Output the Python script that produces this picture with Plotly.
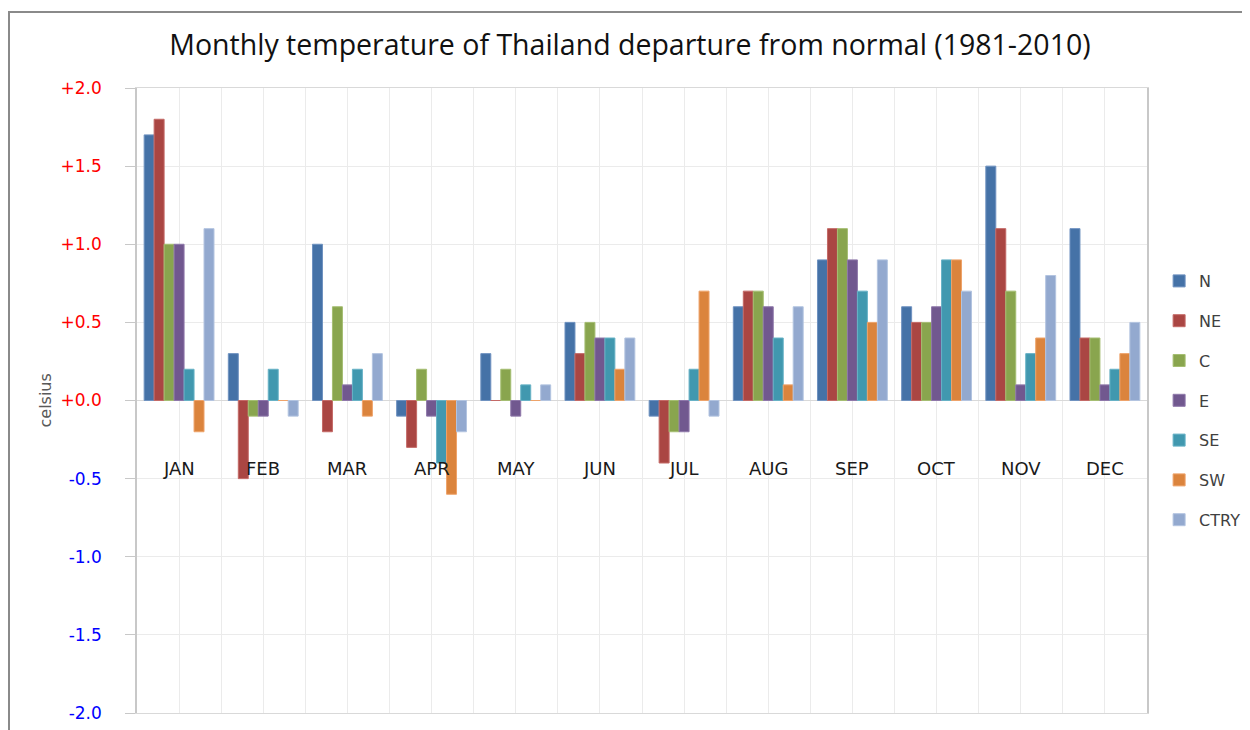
import plotly.graph_objects as go

months = ["JAN", "FEB", "MAR", "APR", "MAY", "JUN", "JUL", "AUG", "SEP", "OCT", "NOV", "DEC"]
N    = [1.7, 0.3, 1.0, -0.1, 0.3, 0.5, -0.1, 0.6, 0.9, 0.6, 1.5, 1.1]
NE   = [1.8, -0.5, -0.2, -0.3, 0.0, 0.3, -0.4, 0.7, 1.1, 0.5, 1.1, 0.4]
C    = [1.0, -0.1, 0.6, 0.2, 0.2, 0.5, -0.2, 0.7, 1.1, 0.5, 0.7, 0.4]
E    = [1.0, -0.1, 0.1, -0.1, -0.1, 0.4, -0.2, 0.6, 0.9, 0.6, 0.1, 0.1]
SE   = [0.2, 0.2, 0.2, -0.4, 0.1, 0.4, 0.2, 0.4, 0.7, 0.9, 0.3, 0.2]
SW   = [-0.2, 0.0, -0.1, -0.6, 0.0, 0.2, 0.7, 0.1, 0.5, 0.9, 0.4, 0.3]
CTRY = [1.1, -0.1, 0.3, -0.2, 0.1, 0.4, -0.1, 0.6, 0.9, 0.7, 0.8, 0.5]

series = [("N", N), ("NE", NE), ("C", C), ("E", E), ("SE", SE), ("SW", SW), ("CTRY", CTRY)]
colors = ["#4572A7", "#AA4643", "#89A54E", "#71588F", "#4198AF", "#DB843D", "#93A9CF"]
edge = ["#6f92c0", "#c46a67", "#a5be72", "#8f78aa", "#67b2c6", "#eea36a", "#b3c4e0"]

ytickvals = [2.0, 1.5, 1.0, 0.5, 0.0, -0.5, -1.0, -1.5, -2.0]
yticktext = ["+2.0", "+1.5", "+1.0", "+0.5", "+0.0", "-0.5", "-1.0", "-1.5", "-2.0"]
ytickcolored = [
    f'<span style="color:{"#ff0000" if v >= 0 else "#0000ff"}">{t}</span>'
    for v, t in zip(ytickvals, yticktext)
]

xpos = list(range(len(months)))

W, H = 1242, 722
L, R, T, B = 129, 103, 80, 17
PW, PH = W - L - R, H - T - B

fig = go.Figure()
for (name, vals), col, ec in zip(series, colors, edge):
    fig.add_trace(go.Bar(
        x=xpos, y=vals, name=name, legendgroup=name,
        marker=dict(color=col, line=dict(color=ec, width=1)),
    ))

for i, m in enumerate(months):
    fig.add_annotation(x=i, y=-0.432, text=m, showarrow=False,
                       font=dict(family="DejaVu Sans", size=18, color="#1a1a1a"),
                       xanchor="center", yanchor="middle")

fig.add_annotation(x=(37 - L) / PW, y=0.5, xref="paper", yref="paper", text="celsius",
                   textangle=-90, showarrow=False,
                   font=dict(family="DejaVu Sans", size=16, color="#595959"),
                   xanchor="center", yanchor="middle")

# outer chart border (only top and left edges fall inside the figure)
fig.add_shape(type="rect", xref="paper", yref="paper", layer="above",
              x0=(1 - L) / PW, x1=(W + 20 - L) / PW,
              y0=(PH + T - 4) / PH, y1=-(B + 20) / PH,
              line=dict(color="#8a8a8a", width=2), fillcolor="rgba(0,0,0,0)")

fig.update_layout(
    width=W, height=H,
    margin=dict(l=L, r=R, t=T, b=B, autoexpand=False),
    paper_bgcolor="white", plot_bgcolor="white",
    barmode="group", bargap=0.17, bargroupgap=0,
    title=dict(text="Monthly temperature of Thailand departure from normal (1981-2010)",
               x=622 / W, xanchor="center", y=1 - 37 / H, yanchor="middle",
               font=dict(family="Open Sans, DejaVu Sans", size=28.5, color="#111111")),
    xaxis=dict(range=[-0.5, 11.5], tick0=-0.5, dtick=0.5, showticklabels=False,
               showgrid=True, gridcolor="#ebebeb", gridwidth=1, zeroline=False,
               showline=True, linecolor="#d9d9d9", mirror=True, ticks="", automargin=False),
    yaxis=dict(range=[-2.0, 2.0], tickvals=ytickvals, ticktext=ytickcolored,
               showgrid=True, gridcolor="#ebebeb", zeroline=True, zerolinecolor="#d9d9d9",
               zerolinewidth=1, showline=True, linecolor="#c8c8c8", linewidth=1.5, mirror=True,
               ticks="outside", ticklen=10, tickcolor="#c8c8c8", ticklabelstandoff=20,
               tickfont=dict(family="DejaVu Sans", size=17), automargin=False),
    legend=dict(x=1.012, xanchor="left", y=0.5, yanchor="middle",
                tracegroupgap=16, font=dict(family="DejaVu Sans", size=16, color="#404040"),
                itemwidth=30),
    showlegend=True,
)

fig.write_html("out.html")
